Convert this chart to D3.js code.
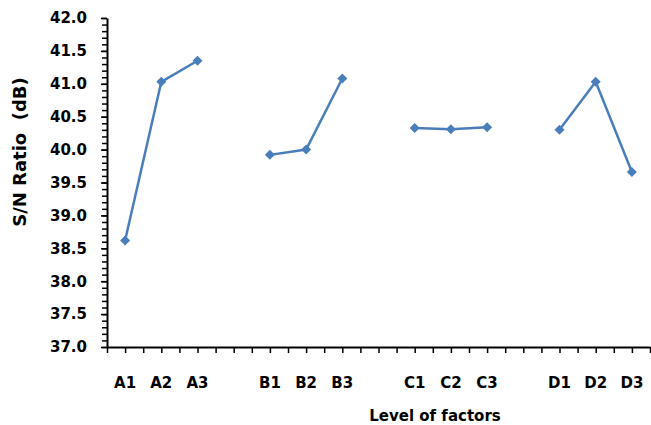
<!DOCTYPE html>
<html><head><meta charset="utf-8">
<script src="https://cdn.jsdelivr.net/npm/d3@7"></script>
<style>body{margin:0;background:#fff}svg{display:block}</style>
</head><body><svg id="c" width="651" height="425"></svg>
<script>
const categories = ["A1","A2","A3","","B1","B2","B3","","C1","C2","C3","","D1","D2","D3"];
const snRatio = [38.62,41.03,41.35,null,39.92,40.00,41.08,null,40.33,40.31,40.34,null,40.30,41.03,39.66];
const yTicks = [37.0,37.5,38.0,38.5,39.0,39.5,40.0,40.5,41.0,41.5,42.0];

const svg = d3.select("#c");
const font = "DejaVu Sans";
const L = 107, R = 650, T = 18, B = 347;
const x = d3.scaleLinear().domain([0, categories.length]).range([L, R]);
const y = d3.scaleLinear().domain([37, 42]).range([B, T]);

// minor y ticks
const yMinor = d3.range(370, 421).map(v => v / 10);
svg.append("g").attr("transform", `translate(${L},0)`)
  .call(d3.axisLeft(y).tickValues(yMinor).tickSize(5).tickFormat(""))
  .call(g => g.select(".domain").remove())
  .selectAll("line").attr("stroke", "#000").attr("stroke-width", 1.5);

const yAxis = svg.append("g").attr("transform", `translate(${L},0)`)
  .call(d3.axisLeft(y).tickValues(yTicks).tickSize(6).tickSizeOuter(0).tickPadding(14).tickFormat(d3.format(".1f")));
yAxis.select(".domain").attr("stroke", "#000").attr("stroke-width", 2);
yAxis.selectAll("line").attr("stroke", "#000").attr("stroke-width", 1.5);
yAxis.selectAll("text").attr("font-family", font).attr("font-weight", "bold").attr("font-size", 15).attr("fill", "#000");

// x axis ticks at category edges and centers
const xTickVals = d3.range(0, categories.length * 2 + 1).map(k => k / 2);
const xAxis = svg.append("g").attr("transform", `translate(0,${B})`)
  .call(d3.axisBottom(x).tickValues(xTickVals).tickSize(6).tickSizeOuter(0).tickFormat(""));
xAxis.select(".domain").attr("stroke", "#000").attr("stroke-width", 2);
xAxis.selectAll("line").attr("stroke", "#000").attr("stroke-width", 1.5);

// category labels
svg.append("g").selectAll("text").data(categories).join("text")
  .attr("x", (d, i) => x(i + 0.5)).attr("y", 388)
  .attr("text-anchor", "middle")
  .attr("font-family", font).attr("font-weight", "bold").attr("font-size", 15)
  .text(d => d);

// line
const color = "#4a7ebb";
const line = d3.line().defined(d => d != null).x((d, i) => x(i + 0.5)).y(d => y(d));
svg.append("path").datum(snRatio).attr("d", line)
  .attr("fill", "none").attr("stroke", color).attr("stroke-width", 2.5);

const pts = snRatio.map((v, i) => ({ v, i })).filter(d => d.v != null);
svg.append("g").selectAll("path").data(pts).join("path")
  .attr("d", d3.symbol(d3.symbolSquare, 50)())
  .attr("transform", d => `translate(${x(d.i + 0.5)},${y(d.v)}) rotate(45)`)
  .attr("fill", color);

// titles
svg.append("text").attr("x", 435).attr("y", 421).attr("text-anchor", "middle")
  .attr("font-family", font).attr("font-weight", "bold").attr("font-size", 15)
  .text("Level of factors");
svg.append("text").attr("transform", "translate(26,152) rotate(-90)")
  .attr("text-anchor", "middle").style("white-space", "pre")
  .attr("font-family", font).attr("font-weight", "bold").attr("font-size", 18)
  .text("S/N Ratio  (dB)");
</script></body></html>
